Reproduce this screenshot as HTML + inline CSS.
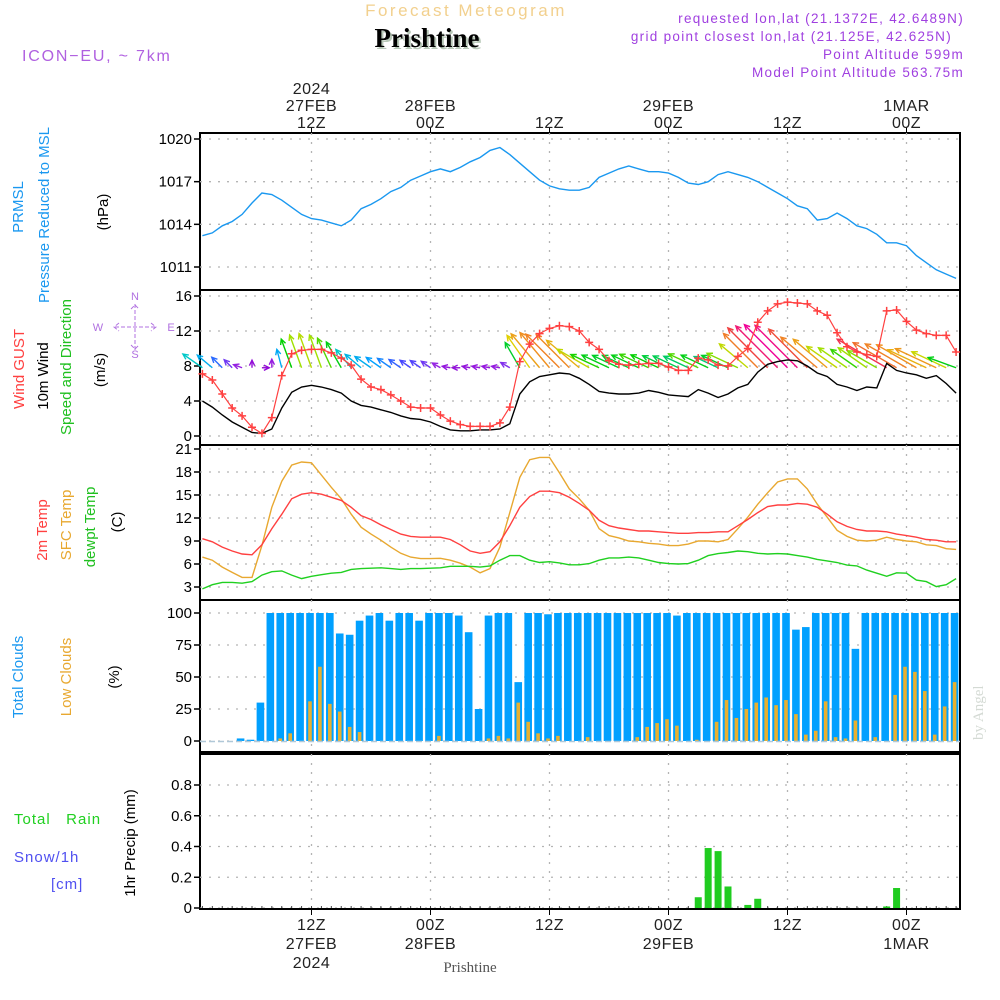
<!DOCTYPE html>
<html><head><meta charset="utf-8"><style>
html,body{margin:0;padding:0;background:#fff;}
svg{display:block;font-family:"Liberation Sans",sans-serif;}
</style></head><body>
<svg id="chart" xmlns="http://www.w3.org/2000/svg" width="1000" height="1000" viewBox="0 0 1000 1000">
<g id="static">
<text x="466" y="16" text-anchor="middle" font-size="17" letter-spacing="2.5" fill="#f2d08e">Forecast Meteogram</text>
<text x="429" y="49" text-anchor="middle" font-family="Liberation Serif,serif" font-weight="bold" font-size="27" fill="#b8c8b8">Prishtine</text>
<text x="427" y="47" text-anchor="middle" font-family="Liberation Serif,serif" font-weight="bold" font-size="27" fill="#000">Prishtine</text>
<text x="22" y="61" font-size="16" letter-spacing="1.8" fill="#b060e0">ICON−EU, ~ 7km</text>
<g font-size="13.5" letter-spacing="1.3" fill="#a040e0" text-anchor="end">
<text x="964" y="23">requested lon,lat (21.1372E, 42.6489N)</text>
<text x="952" y="41">grid point closest lon,lat (21.125E, 42.625N)</text>
<text x="964" y="59">Point Altitude 599m</text>
<text x="964" y="77">Model Point Altitude 563.75m</text>
</g>
<text transform="translate(983,740) rotate(-90)" font-family="Liberation Serif,serif" font-size="15" fill="#d4dad4">by Angel</text>
<text x="470" y="972" text-anchor="middle" font-family="Liberation Serif,serif" font-size="15" fill="#555">Prishtine</text>
</g>
<g id="labels" font-size="14"></g>
<g id="plot"></g>
</svg>
<script>
// ---- data (hours from 27FEB 00Z) ----
const hours = [1,2,3,4,5,6,7,8,9,10,11,12,13,14,15,16,17,18,19,20,21,22,23,24,25,26,27,28,29,30,31,32,33,34,35,36,37,38,39,40,41,42,43,44,45,46,47,48,49,50,51,52,53,54,55,56,57,58,59,60,61,62,63,64,65,66,67,68,69,70,71,72,73,74,75,76,77];
const pressure = [1013.2,1013.4,1013.9,1014.2,1014.7,1015.5,1016.2,1016.1,1015.7,1015.2,1014.7,1014.4,1014.3,1014.1,1013.9,1014.3,1015.1,1015.4,1015.8,1016.3,1016.6,1017.1,1017.4,1017.7,1017.9,1017.7,1018.0,1018.4,1018.7,1019.2,1019.4,1018.9,1018.3,1017.7,1017.1,1016.7,1016.5,1016.4,1016.4,1016.6,1017.3,1017.6,1017.9,1018.1,1017.9,1017.7,1017.7,1017.6,1017.3,1016.9,1016.8,1017.0,1017.5,1017.7,1017.5,1017.3,1017.0,1016.6,1016.2,1015.8,1015.3,1015.1,1014.3,1014.4,1014.8,1014.4,1013.9,1013.7,1013.3,1012.7,1012.7,1012.5,1011.8,1011.3,1010.8,1010.5,1010.2];
const wind10 = [4.0,3.3,2.4,1.6,1.0,0.4,0.3,0.8,3.2,5.0,5.6,5.8,5.6,5.3,4.9,4.0,3.5,3.3,3.0,2.7,2.3,2.0,1.9,1.6,1.1,0.7,0.6,0.6,0.7,0.7,0.8,1.4,4.8,6.2,6.8,7.0,7.2,7.1,6.6,5.9,5.1,4.9,4.8,4.8,4.9,5.2,5.0,4.7,4.6,4.5,5.3,4.9,4.4,4.8,5.5,5.9,7.3,8.2,8.5,8.7,8.6,8.0,7.2,6.8,5.9,5.6,5.2,5.6,5.5,8.3,7.5,7.2,7.0,6.6,6.9,6.0,4.9];
const gust = [7.1,6.4,4.8,3.2,2.3,1.0,0.3,2.1,6.9,9.4,9.8,9.9,9.9,9.5,8.9,8.1,6.5,5.6,5.3,4.7,4.0,3.3,3.2,3.2,2.4,1.7,1.3,1.1,1.1,1.1,1.5,3.3,8.5,10.5,11.7,12.3,12.6,12.5,12.0,10.7,9.9,8.6,8.2,8.1,8.2,8.3,8.3,7.9,7.5,7.5,8.9,8.7,8.1,8.0,9.1,10.0,13.0,14.3,15.1,15.3,15.2,15.1,14.3,13.8,11.8,10.2,9.6,9.3,9.1,14.3,14.4,13.1,12.1,11.7,11.5,11.5,9.6];
const windDirTo = [55,50,45,45,70,0,270,0,15,20,20,20,20,25,30,40,50,55,55,55,55,55,55,55,60,80,90,80,80,80,80,60,30,35,40,40,45,45,50,60,65,65,65,65,65,65,65,65,65,65,65,65,65,65,65,50,45,45,45,45,45,45,50,50,55,55,55,55,60,60,60,60,60,65,65,65,70];
const temp2m = [9.3,8.9,8.2,7.7,7.3,7.2,8.5,10.6,12.5,14.5,15.1,15.3,15.1,14.7,14.3,13.4,12.3,11.8,11.1,10.5,9.9,9.6,9.5,9.5,9.5,9.2,8.5,7.7,7.4,7.6,8.9,11.0,13.4,14.8,15.5,15.5,15.3,14.7,13.9,13.0,11.7,11.0,10.7,10.5,10.3,10.3,10.2,10.1,10.0,10.0,10.1,10.1,10.2,10.2,11.0,11.8,12.7,13.5,13.7,13.7,13.9,13.8,13.4,12.5,11.5,10.9,10.5,10.3,10.3,10.2,9.9,9.7,9.5,9.2,9.1,8.9,8.9];
const tempSfc = [6.9,6.5,5.6,4.9,4.25,4.25,8.4,13.4,16.8,18.9,19.3,19.2,17.6,16.0,14.5,12.5,10.8,9.9,9.1,8.2,7.4,6.9,6.7,6.7,6.75,6.5,6.1,5.6,4.85,5.4,8.2,12.7,17.3,19.6,19.9,19.9,17.9,15.8,14.5,13.0,10.6,9.7,9.4,9.0,8.9,8.7,8.6,8.4,8.4,8.6,9.0,9.0,8.9,9.2,10.6,12.1,13.8,15.3,16.7,17.1,17.1,15.8,13.8,12.1,10.4,9.6,9.1,9.0,9.1,9.5,9.2,9.0,8.9,8.5,8.4,8.0,7.9];
const dewpt = [2.75,3.3,3.6,3.6,3.5,3.7,4.55,5.0,5.1,4.55,4.1,4.4,4.6,4.8,4.9,5.3,5.4,5.45,5.5,5.4,5.3,5.4,5.4,5.45,5.5,5.7,5.7,5.7,5.6,5.75,6.5,7.1,7.1,6.5,6.2,6.3,6.15,5.9,5.9,6.05,6.5,6.8,6.8,6.9,6.8,6.5,6.2,6.05,6.0,6.05,6.5,7.1,7.35,7.5,7.7,7.6,7.4,7.3,7.35,7.3,7.1,6.9,6.6,6.4,6.2,5.85,5.75,5.2,4.8,4.4,4.85,4.8,3.9,3.7,3.05,3.3,4.1];
const totalClouds = [0,0,0,0,2,1,30,100,100,100,100,100,100,100,84,83,94,98,100,94,100,100,94,100,100,100,98,85,25,98,100,100,46,100,100,99,100,100,100,100,100,100,100,100,100,100,100,100,98,100,100,100,100,100,100,100,100,100,100,100,87,89,100,100,100,100,72,100,100,100,100,100,100,100,100,100,100];
const lowClouds = [0,0,0,0,0,0,0,0,2,6,0,31,58,29,23,11,7,0,0,0,0,0,0,0,4,0,0,0,0,2,4,2,30,15,6,2,4,0,0,3,0,0,0,0,3,11,14,17,12,0,1,0,15,32,18,25,30,34,28,32,21,5,8,31,3,2,16,0,3,0,36,58,54,39,5,27,46];
const precipHours = [51,52,53,54,56,57,70,71];
const precipVals = [0.07,0.39,0.37,0.14,0.02,0.06,0.01,0.13];
const pTicks = [1011,1014,1017,1020];
const wTicks = [0,4,8,12,16];
const tTicks = [3,6,9,12,15,18,21];
const cTicks = [0,25,50,75,100];
const rTicks = [0,0.2,0.4,0.6,0.8];
const rTickLabels = ['0','0.2','0.4','0.6','0.8'];
const timeTicks = [12,24,36,48,60,72];
const topTimeLabels = [['2024','27FEB','12Z'],['','28FEB','00Z'],['','','12Z'],['','29FEB','00Z'],['','','12Z'],['','1MAR','00Z']];
const botTimeLabels = [['12Z','27FEB','2024'],['00Z','28FEB',''],['12Z','',''],['00Z','29FEB',''],['12Z','',''],['00Z','1MAR','']];

// ---- layout ----
const NS='http://www.w3.org/2000/svg';
const X0=200, X1=960;
const x = h => 311.5 + (h-12)*119/12;
const yP = v => 139 + (1020-v)*128/9;
const yW = v => 436 - v*140/16;
const yT = v => 587 - (v-3)*138/18;
const yC = v => 741 - v*1.28;
const yR = v => 908 - v*123/0.8;
const plot=document.getElementById('plot');
const labels=document.getElementById('labels');
function mk(tag,attrs,parent){const e=document.createElementNS(NS,tag);for(const k in attrs)e.setAttribute(k,attrs[k]);(parent||plot).appendChild(e);return e;}
function txt(s,attrs,parent){const e=mk('text',attrs,parent);e.textContent=s;return e;}

const panels=[[133,290,'pressure-panel'],[290,445,'wind-panel'],[445,600,'temperature-panel'],[600,752,'clouds-panel'],[754,909,'precip-panel']];
panels.forEach(p=>{
  const r=mk('rect',{x:X0,y:p[0],width:X1-X0,height:p[1]-p[0],fill:'none',stroke:'#000','stroke-width':2});
  
  
  timeTicks.forEach(h=>{
    const g=mk('line',{x1:x(h),x2:x(h),y1:p[0],y2:p[1],stroke:'#b4b4b4','stroke-width':1.3,'stroke-dasharray':'2,7'});
    
    
  });
});
function yAxis(ticks,yf,lbls,name){
  ticks.forEach((v,i)=>{
    const y=yf(v);
    const g=mk('line',{x1:X0,x2:X1,y1:y,y2:y,stroke:'#b4b4b4','stroke-width':1.3,'stroke-dasharray':'2,7'});
    
    
    mk('line',{x1:X0-6,x2:X0,y1:y,y2:y,stroke:'#000','stroke-width':1.5});
    const t=txt(lbls?lbls[i]:String(v),{x:X0-8,y:y+5,'text-anchor':'end','font-size':15,fill:'#000'});
    
    
  });
}
yAxis(pTicks,yP,null,'pressure');
yAxis(wTicks,yW,null,'wind');
yAxis(tTicks,yT,null,'temp');
yAxis(cTicks,yC,null,'clouds');
yAxis(rTicks,yR,rTickLabels,'precip');
hours.forEach(h=>{mk('line',{x1:x(h),x2:x(h),y1:906,y2:910,stroke:'#444','stroke-width':1});});

// time labels
timeTicks.forEach((h,i)=>{
  mk('line',{x1:x(h),x2:x(h),y1:127,y2:133,stroke:'#000','stroke-width':1});
  mk('line',{x1:x(h),x2:x(h),y1:909,y2:915,stroke:'#000','stroke-width':1});
  topTimeLabels[i].forEach((s,j)=>{ if(s){const t=txt(s,{x:x(h),y:94+j*17,'text-anchor':'middle','font-size':16,'letter-spacing':0.5,fill:'#222'});
    }});
  botTimeLabels[i].forEach((s,j)=>{ if(s){const t=txt(s,{x:x(h),y:930+j*19,'text-anchor':'middle','font-size':16,'letter-spacing':0.5,fill:'#222'});
    }});
});

function line(vals,yf,color,name,w){
  const d=vals.map((v,i)=>(i?'L':'M')+x(hours[i]).toFixed(1)+','+yf(v).toFixed(1)).join('');
  const p=mk('path',{d:d,fill:'none',stroke:color,'stroke-width':w||1.4});
  
  
  return p;
}
line(pressure,yP,'#1a98f0','pressure-line');
// wind arrows
const stops=[[0,[144,0,208]],[1.2,[150,40,230]],[2,[70,70,255]],[3,[0,160,255]],[4,[0,200,200]],[5,[0,208,0]],[5.6,[160,224,0]],[6.2,[224,208,0]],[7,[240,144,32]],[8.2,[240,64,64]],[8.7,[240,0,150]]];
function col(s){for(let i=1;i<stops.length;i++){if(s<=stops[i][0]){const a=stops[i-1],b=stops[i],t=(s-a[0])/(b[0]-a[0]);return 'rgb('+a[1].map((c,k)=>Math.round(c+(b[1][k]-c)*t)).join(',')+')';}}return 'rgb(240,0,150)';}
hours.forEach((h,i)=>{
  const s=wind10[i], a=windDirTo[i]*Math.PI/180, L=7+2.1*Math.pow(s,1.5);
  const x0=x(h), y0=yW(7.8), ux=-Math.sin(a), uy=-Math.cos(a);
  const x1=x0+ux*L, y1=y0+uy*L, c=col(s), hl=6;
  const g=mk('g',{stroke:c,'stroke-width':1.4,fill:'none'});
  
  
  mk('line',{x1:x0,y1:y0,x2:x1,y2:y1},g);
  const ca=Math.cos(0.45), sa=Math.sin(0.45);
  const bx=-ux, by=-uy;
  mk('path',{d:'M'+(x1+hl*(bx*ca-by*sa))+','+(y1+hl*(bx*sa+by*ca))+'L'+x1+','+y1+'L'+(x1+hl*(bx*ca+by*sa))+','+(y1+hl*(-bx*sa+by*ca))},g);
});
line(wind10,yW,'#000','wind-10m-line',1.4);
line(gust,yW,'#ff4040','wind-gust-line',1.2);
gust.forEach((v,i)=>{
  const cx=x(hours[i]),cy=yW(v);
  const m=mk('path',{d:'M'+(cx-4)+','+cy+'h8M'+cx+','+(cy-4)+'v8',stroke:'#ff4040','stroke-width':1.5});
  
  
});
line(tempSfc,yT,'#e8a830','sfc-temp-line');
line(temp2m,yT,'#ff4040','temp-2m-line');
line(dewpt,yT,'#20d020','dewpoint-line');
hours.forEach((h,i)=>{
  const cx=x(h)-1.5;
  const r=mk('rect',{x:cx-3.8,y:yC(totalClouds[i]),width:7.6,height:Math.max(0.01,yC(0)-yC(totalClouds[i])),fill:'#00a0ff'});
  
  
  const l=mk('rect',{x:cx-1.8,y:yC(lowClouds[i]),width:3.6,height:Math.max(0.01,yC(0)-yC(lowClouds[i])),fill:'#e8b030'});
  
  
});
mk('line',{x1:X0,x2:X1,y1:yC(0)+0.5,y2:yC(0)+0.5,stroke:'#b0c8d8','stroke-width':1.5,'stroke-dasharray':'6,3'});
precipHours.forEach((h,i)=>{
  const cx=x(h);
  const r=mk('rect',{x:cx-3.5,y:yR(precipVals[i]),width:7,height:yR(0)-yR(precipVals[i]),fill:'#20cc20'});
  
  
});
mk('line',{x1:X0,x2:X1,y1:909,y2:909,stroke:'#000','stroke-width':2});

function vt(s,cx,cy,color,name,fs){const t=txt(s,{transform:'translate('+cx+','+cy+') rotate(-90)','text-anchor':'middle','font-size':fs||15,fill:color},labels);
  }
vt('PRMSL',23,207,'#1a98f0','pressure-title-1');
vt('Pressure Reduced to MSL',49,215,'#1a98f0','pressure-title-2');
vt('(hPa)',108,212,'#000','pressure-unit');
vt('Wind GUST',24,369,'#ff4040','gust-title');
vt('10m Wind',48,376,'#000','wind-title');
vt('Speed and Direction',71,367,'#20c020','wind-speed-title');
vt('(m/s)',105,370,'#000','wind-unit');
vt('2m Temp',47,530,'#ff4040','temp-2m-title');
vt('SFC Temp',71,525,'#e8a830','sfc-temp-title');
vt('dewpt Temp',95,527,'#20c020','dewpt-title');
vt('(C)',122,522,'#000','temp-unit');
vt('Total Clouds',23,677,'#1a98f0','total-clouds-title');
vt('Low Clouds',71,677,'#e8a830','low-clouds-title');
vt('(%)',119,677,'#000','clouds-unit');
vt('1hr Precip (mm)',135,843,'#000','precip-title');
const tr=txt('Total\u00a0\u00a0\u00a0Rain',{x:14,y:824,'font-size':15,'letter-spacing':1,fill:'#20d020'},labels);

const sn=txt('Snow/1h',{x:14,y:862,'font-size':15,'letter-spacing':1,fill:'#5050f0'},labels);

const cm=txt('[cm]',{x:51,y:889,'font-size':15,'letter-spacing':1,fill:'#5050f0'},labels);

const cg=mk('g',{fill:'#b070e0','font-size':11,'text-anchor':'middle'},labels);


txt('N',{x:135,y:300},cg);txt('S',{x:135,y:358},cg);txt('W',{x:98,y:331},cg);txt('E',{x:171,y:331},cg);
mk('path',{d:'M135,304v46M115,327h40M119,323l-5,4l5,4M151,323l5,4l-5,4M131,309l4,-4l4,4M131,345l4,4l4,-4',stroke:'#b070e0','stroke-width':1,fill:'none','stroke-dasharray':'4,2'},cg);
</script>
</body></html>
